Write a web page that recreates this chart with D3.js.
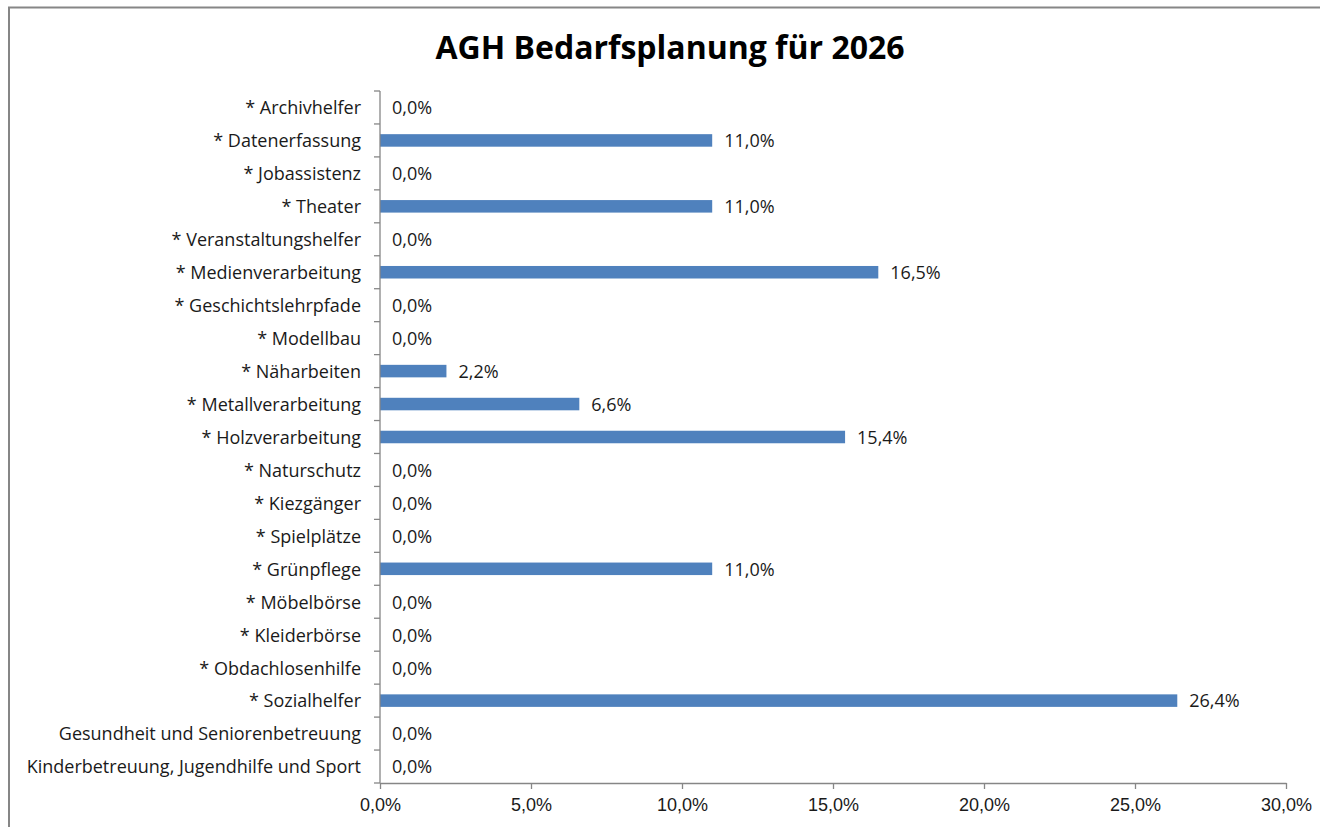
<!DOCTYPE html>
<html lang="de">
<head>
<meta charset="UTF-8" />
<title>AGH Bedarfsplanung für 2026</title>
<script src="https://d3js.org/d3.v7.min.js"></script>
<style>
    body { margin: 0; background: #fff; }
    svg { display: block; font-family: "Open Sans", Lato, sans-serif; }
    .axis path, .axis line { stroke: #868686; stroke-width: 1.3; }
    .axis text { fill: #1a1a1a; font-size: 18px; }
</style>
</head>
<body>
<div id="chart"></div>
<script>
    const width = 1320;
    const height = 827;
    const marginTop = 91;
    const marginRight = 34;
    const marginBottom = 44;
    const marginLeft = 380;

    const categories = [
        "* Archivhelfer", "* Datenerfassung", "* Jobassistenz", "* Theater",
        "* Veranstaltungshelfer", "* Medienverarbeitung", "* Geschichtslehrpfade",
        "* Modellbau", "* Näharbeiten", "* Metallverarbeitung", "* Holzverarbeitung",
        "* Naturschutz", "* Kiezgänger", "* Spielplätze", "* Grünpflege",
        "* Möbelbörse", "* Kleiderbörse", "* Obdachlosenhilfe", "* Sozialhelfer",
        "Gesundheit und Seniorenbetreuung", "Kinderbetreuung, Jugendhilfe und Sport"
    ];
    const values = [0, 11.0, 0, 11.0, 0, 16.5, 0, 0, 2.2, 6.6, 15.4, 0, 0, 0, 11.0, 0, 0, 0, 26.4, 0, 0];
    const xTicks = [0, 5, 10, 15, 20, 25, 30];

    const fmt = v => v.toFixed(1).replace(".", ",") + "%";

    const svg = d3.select("#chart").append("svg")
        .attr("width", width)
        .attr("height", height);

    // Rahmen
    svg.append("rect")
        .attr("x", 9).attr("y", 7.5)
        .attr("width", width).attr("height", height)
        .attr("fill", "none")
        .attr("stroke", "#868686")
        .attr("stroke-width", 2);

    svg.append("text")
        .attr("x", 670).attr("y", 59)
        .attr("text-anchor", "middle")
        .attr("font-size", 32)
        .attr("font-weight", "bold")
        .attr("fill", "#000")
        .text("AGH Bedarfsplanung für 2026");

    const x = d3.scaleLinear()
        .domain([0, 30])
        .range([marginLeft, width - marginRight]);

    const y = d3.scaleBand()
        .domain(categories)
        .range([marginTop, height - marginBottom])
        .paddingInner(0.62)
        .paddingOuter(0.31);

    const yOuter = d3.scaleBand()
        .domain(categories)
        .range([marginTop, height - marginBottom]);

    // Balken
    svg.append("g").selectAll("rect")
        .data(values)
        .join("rect")
        .attr("x", x(0))
        .attr("y", (d, i) => y(categories[i]))
        .attr("width", d => x(d) - x(0))
        .attr("height", y.bandwidth())
        .attr("fill", "#4F81BD");

    // Wertebeschriftung
    svg.append("g").selectAll("text")
        .data(values)
        .join("text")
        .attr("x", d => x(d) + 12)
        .attr("y", (d, i) => y(categories[i]) + y.bandwidth() / 2)
        .attr("dy", "0.38em")
        .attr("font-size", 18)
        .attr("fill", "#1a1a1a")
        .text(d => fmt(d));

    // x-Achse
    svg.append("g")
        .attr("class", "axis")
        .attr("transform", `translate(0,${height - marginBottom})`)
        .call(d3.axisBottom(x).tickValues(xTicks).tickFormat(fmt).tickSize(6).tickSizeOuter(0).tickPadding(9))
        .call(g => g.selectAll("text").attr("font-family", null));

    // y-Achse: Striche zwischen den Kategorien
    const yAxisG = svg.append("g")
        .attr("class", "axis")
        .attr("transform", `translate(${marginLeft},0)`);

    yAxisG.append("line")
        .attr("y1", marginTop).attr("y2", height - marginBottom);

    const bounds = categories.map(c => yOuter(c)).concat([height - marginBottom]);
    yAxisG.selectAll(".tk")
        .data(bounds)
        .join("line")
        .attr("class", "tk")
        .attr("x1", -6).attr("x2", 0)
        .attr("y1", d => d).attr("y2", d => d);

    yAxisG.selectAll(".lbl")
        .data(categories)
        .join("text")
        .attr("class", "lbl")
        .attr("x", -19)
        .attr("y", d => yOuter(d) + yOuter.bandwidth() / 2)
        .attr("dy", "0.38em")
        .attr("text-anchor", "end")
        .text(d => d);
</script>
</body>
</html>
